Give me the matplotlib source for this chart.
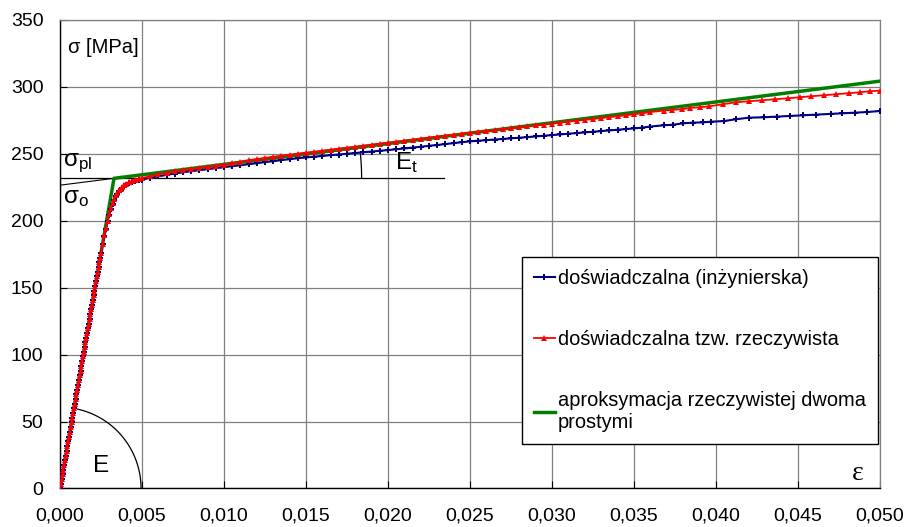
import numpy as np
import matplotlib
matplotlib.use('Agg')
import matplotlib.pyplot as plt
from matplotlib.lines import Line2D
from matplotlib.ticker import FuncFormatter

plt.rcParams['font.family'] = ['Liberation Sans', 'DejaVu Sans']

# elastic part (both curves coincide here)
eps_elastic = [0.0, 0.00005, 0.0001, 0.00015, 0.0002, 0.00025, 0.0003, 0.00035, 0.0004, 0.00045,
               0.0005, 0.00055, 0.0006, 0.00065, 0.0007, 0.00075, 0.0008, 0.00085, 0.0009, 0.00095,
               0.001, 0.00105, 0.0011, 0.00115, 0.0012, 0.00125, 0.0013, 0.00135, 0.0014, 0.00145,
               0.0015, 0.00155, 0.0016, 0.00165, 0.0017, 0.00175, 0.0018, 0.00185, 0.0019, 0.00195,
               0.002, 0.00205, 0.0021, 0.00215, 0.0022, 0.00225, 0.0023, 0.00235, 0.0024, 0.00245,
               0.0025]
sig_elastic = [0.0, 3.5, 7.0, 10.6, 14.1, 17.6, 21.1, 24.6, 28.2, 31.7,
               35.2, 38.7, 42.2, 45.8, 49.3, 52.8, 56.3, 59.8, 63.4, 66.9,
               70.4, 73.9, 77.4, 81.0, 84.5, 88.0, 91.5, 95.0, 98.6, 102.1,
               105.6, 109.1, 112.6, 116.2, 119.7, 123.2, 126.7, 130.2, 133.8, 137.3,
               140.8, 144.3, 147.8, 151.4, 154.9, 158.4, 161.9, 165.4, 169.0, 172.4,
               175.8]

# knee
eps_knee = [0.0026, 0.0027, 0.0028, 0.0029, 0.0030, 0.0031, 0.0032, 0.0033, 0.0034, 0.0035,
            0.0036, 0.0037, 0.0038, 0.0039, 0.0040, 0.0042, 0.0044, 0.0046, 0.0048, 0.0050]
sig_knee_eng = [182.5, 188.5, 194.0, 199.5, 204.5, 209.0, 212.8, 215.8, 218.2, 220.2,
                221.9, 223.3, 224.5, 225.6, 226.5, 227.9, 228.9, 229.7, 230.3, 230.8]
sig_knee_true = [183.0, 189.0, 194.5, 200.1, 205.1, 209.6, 213.5, 216.5, 218.9, 221.0,
                 222.7, 224.1, 225.4, 226.5, 227.4, 228.9, 229.9, 230.8, 231.4, 231.9]

# plastic part
eps_plastic = [0.0055, 0.0060, 0.0065, 0.0070, 0.0075, 0.0080, 0.0085, 0.0090, 0.0095, 0.0100,
               0.0105, 0.0110, 0.0115, 0.0120, 0.0125, 0.0130, 0.0135, 0.0140, 0.0145, 0.0150,
               0.0155, 0.0160, 0.0165, 0.0170, 0.0175, 0.0180, 0.0185, 0.0190, 0.0195, 0.0200,
               0.0205, 0.0210, 0.0215, 0.0220, 0.0225, 0.0230, 0.0235, 0.0240, 0.0245, 0.0250,
               0.0255, 0.0260, 0.0265, 0.0270, 0.0275, 0.0280, 0.0285, 0.0290, 0.0295, 0.0300,
               0.0305, 0.0310, 0.0315, 0.0320, 0.0325, 0.0330, 0.0335, 0.0340, 0.0345, 0.0350,
               0.0355, 0.0360]
sig_plastic_eng = [232.1, 233.2, 234.3, 235.3, 236.2, 237.0, 237.8, 238.5, 239.3, 240.0,
                   240.8, 241.5, 242.3, 243.0, 243.8, 244.5, 245.3, 246.0, 246.7, 247.3,
                   247.9, 248.4, 249.0, 249.5, 250.1, 250.6, 251.2, 251.7, 252.3, 252.8,
                   253.4, 254.0, 254.7, 255.3, 256.0, 256.6, 257.3, 258.0, 258.7, 259.3,
                   259.8, 260.2, 260.7, 261.1, 261.6, 262.0, 262.5, 263.0, 263.5, 264.0,
                   264.5, 265.0, 265.5, 266.0, 266.5, 267.0, 267.5, 268.0, 268.5, 269.0,
                   269.6, 270.4]
sig_plastic_true = [233.3, 234.6, 235.8, 236.9, 237.9, 238.8, 239.6, 240.4, 241.2, 242.0,
                    243.0, 244.1, 245.2, 246.1, 247.0, 247.8, 248.6, 249.4, 250.2, 250.9,
                    251.6, 252.4, 253.1, 253.9, 254.6, 255.4, 256.1, 256.9, 257.6, 258.4,
                    259.1, 259.9, 260.6, 261.4, 262.1, 262.8, 263.6, 264.3, 265.1, 265.8,
                    266.5, 267.2, 267.8, 268.5, 269.2, 269.9, 270.5, 271.2, 271.9, 272.6,
                    273.3, 274.0, 274.7, 275.4, 276.0, 276.7, 277.4, 278.1, 278.8, 279.5,
                    280.3, 281.2]

# end of test
eps_tail_eng = [0.0368, 0.0374, 0.0380, 0.0386, 0.0392, 0.0397, 0.0405, 0.0412, 0.0420, 0.0429,
                0.0437, 0.0445, 0.0453, 0.0461, 0.0470, 0.0477, 0.0485, 0.0492, 0.0500]
sig_tail_eng = [271.3, 271.8, 272.8, 273.3, 273.5, 274.0, 274.5, 275.8, 277.0, 277.3,
                277.8, 278.3, 278.8, 279.3, 279.8, 280.3, 280.8, 281.2, 282.0]
eps_tail_true = [0.0368, 0.0373, 0.0379, 0.0384, 0.0390, 0.0396, 0.0404, 0.0412, 0.0420, 0.0428,
                 0.0436, 0.0444, 0.0451, 0.0458, 0.0466, 0.0473, 0.0481, 0.0488, 0.0494, 0.0500]
sig_tail_true = [282.3, 282.8, 283.3, 284.3, 284.8, 285.5, 287.0, 288.5, 289.3, 290.0,
                 290.8, 291.5, 292.3, 293.0, 293.8, 294.5, 295.3, 296.0, 296.8, 297.2]

# bilinear approximation
eps_approx = [0.0, 0.00329, 0.050]
sig_approx = [0.0, 231.7, 304.3]

labels = ['doświadczalna (inżynierska)',
          'doświadczalna tzw. rzeczywista',
          'aproksymacja rzeczywistej dwoma\nprostymi']

eps_eng = eps_elastic + eps_knee + eps_plastic + eps_tail_eng
sig_eng = sig_elastic + sig_knee_eng + sig_plastic_eng + sig_tail_eng
eps_true = eps_elastic + eps_knee + eps_plastic + eps_tail_true
sig_true = sig_elastic + sig_knee_true + sig_plastic_true + sig_tail_true

fig = plt.figure(figsize=(9.07, 5.27), dpi=100)
ax = fig.add_axes([0.0662, 0.0731, 0.904, 0.889])

navy = '#000080'
green = '#008000'
ax.plot(eps_approx, sig_approx, color=green, lw=2.5, zorder=3)
ax.plot(eps_eng, sig_eng, color=navy, lw=1.5, marker='P', ms=4, mew=0, zorder=4)
ax.plot(eps_true, sig_true, color='red', lw=1.3, marker='^', ms=4.2, mew=0, zorder=5)

# construction lines
kx, ky = eps_approx[1], sig_approx[1]
slope = (sig_approx[2] - ky) / (eps_approx[2] - kx)
ax.plot([0, 0.0234], [ky, ky], color='black', lw=0.9, zorder=2)
ax.plot([0, kx], [ky - slope * kx, ky], color='black', lw=0.8, zorder=2)

t = np.radians(np.linspace(0, 77.5, 60))
ax.plot(0.00494 * np.cos(t), 60.7 * np.sin(t), color='black', lw=0.9, zorder=2)
t2 = np.radians(np.linspace(0, 6.0, 30))
ax.plot(kx + 0.0151 * np.cos(t2), ky + 185 * np.sin(t2), color='black', lw=0.9, zorder=2)

ax.text(0.0005, 325.5, 'σ [MPa]', fontsize=14.5, va='baseline')
ax.text(0.0002, 241, r'$\mathregular{σ_{pl}}$', fontsize=17.5, va='baseline')
ax.text(0.0002, 213, r'$\mathregular{σ_{o}}$', fontsize=17.5, va='baseline')
ax.text(0.00199, 12.6, 'E', fontsize=17.5, va='baseline')
ax.text(0.02043, 238.6, r'$\mathregular{E_{t}}$', fontsize=17.5, va='baseline')
ax.text(0.0483, 6.4, 'ε', fontsize=20, va='baseline', family=['Liberation Serif', 'DejaVu Serif'])

ax.set_xlim(0, 0.05)
ax.set_ylim(0, 350)
ax.set_xticks(np.arange(0, 0.0501, 0.005))
ax.set_yticks(np.arange(0, 351, 50))
ax.xaxis.set_major_formatter(FuncFormatter(lambda v, p: f'{v:.3f}'.replace('.', ',')))
ax.tick_params(direction='in', length=5, width=0.8, labelsize=14, colors='black')
ax.tick_params(axis='x', pad=14)
ax.tick_params(axis='y', pad=12)
ax.grid(color='#808080', lw=0.9)
for s in ['left', 'bottom']:
    ax.spines[s].set_color('black')
    ax.spines[s].set_linewidth(1.0)
for s in ['top', 'right']:
    ax.spines[s].set_color('#808080')
    ax.spines[s].set_linewidth(0.9)

handles = [Line2D([], [], color=navy, lw=1.5, marker='P', ms=4, mew=0),
           Line2D([], [], color='red', lw=1.3, marker='^', ms=4.2, mew=0),
           Line2D([], [], color=green, lw=2.5)]
leg = ax.legend(handles, labels, loc='upper left', bbox_to_anchor=(0.5634, 0.4935),
                borderaxespad=0, fontsize=14.4, frameon=True, fancybox=False,
                edgecolor='black', framealpha=1, numpoints=1, handlelength=1.05,
                handletextpad=0.15, labelspacing=2.1, borderpad=0.6)
leg.get_frame().set_linewidth(1.0)

plt.savefig('out.png', dpi=100)
